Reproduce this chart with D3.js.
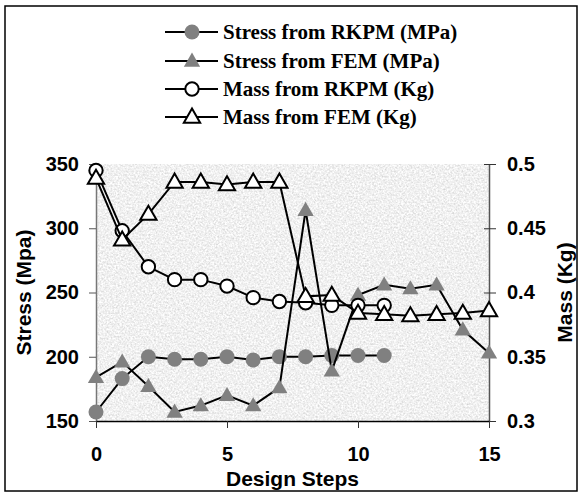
<!DOCTYPE html>
<html>
<head>
<meta charset="utf-8">
<script src="https://cdn.jsdelivr.net/npm/d3@7"></script>
<style>
  body { margin: 0; background: #fff; }
  .tick text { font-family: "Liberation Sans", Arial, sans-serif; font-weight: bold; font-size: 20px; fill: #000; }
  .axisTitle { font-family: "Liberation Sans", Arial, sans-serif; font-weight: bold; font-size: 21px; fill: #000; }
  .legendText { font-family: "Liberation Serif", "Times New Roman", serif; font-weight: bold; font-size: 21px; fill: #000; }
</style>
</head>
<body>
<div id="chart"></div>
<script>
// Data
var stepsRKPM = [0, 1, 2, 3, 4, 5, 6, 7, 8, 9, 10, 11];
var stepsFEM = [0, 1, 2, 3, 4, 5, 6, 7, 8, 9, 10, 11, 12, 13, 14, 15];
var stressRKPM = [157, 183, 200, 198, 198, 200, 197.5, 200, 200, 201, 201, 201];
var stressFEM = [184, 196, 177, 157, 162, 170, 162, 176, 314, 189, 248, 256, 253, 256, 221, 203];
var massRKPM = [0.495, 0.448, 0.420, 0.410, 0.410, 0.405, 0.396, 0.393, 0.392, 0.390, 0.390, 0.390];
var massFEM = [0.489, 0.441, 0.461, 0.486, 0.486, 0.484, 0.486, 0.486, 0.397, 0.398, 0.384, 0.383, 0.382, 0.383, 0.384, 0.386];
var xTicks = [0, 5, 10, 15];
var stressTicks = [150, 200, 250, 300, 350];
var massTicks = [0.3, 0.35, 0.4, 0.45, 0.5];
var legendLabels = ["Stress from RKPM (MPa)", "Stress from FEM (MPa)", "Mass from RKPM (Kg)", "Mass from FEM (Kg)"];

var svgWidth = 579;
var svgHeight = 495;
var plot = { left: 96, right: 489, top: 164, bottom: 421 };

var svg = d3.select("#chart")
  .append("svg")
  .attr("width", svgWidth)
  .attr("height", svgHeight);

// outer frame
svg.append("rect")
  .attr("x", 5).attr("y", 6)
  .attr("width", 572).attr("height", 485)
  .attr("fill", "none")
  .attr("stroke", "#000")
  .attr("stroke-width", 1.5);

// grey stone-like texture for the plot area
var defs = svg.append("defs");
var filt = defs.append("filter")
  .attr("id", "stone")
  .attr("filterUnits", "userSpaceOnUse")
  .attr("x", plot.left).attr("y", plot.top)
  .attr("width", plot.right - plot.left).attr("height", plot.bottom - plot.top);
filt.append("feTurbulence")
  .attr("type", "fractalNoise")
  .attr("baseFrequency", 0.55)
  .attr("numOctaves", 3)
  .attr("seed", 7);
filt.append("feColorMatrix")
  .attr("type", "matrix")
  .attr("values", "0.55 0 0 0 0.60  0.55 0 0 0 0.60  0.55 0 0 0 0.60  0 0 0 0 1");

svg.append("rect")
  .attr("x", plot.left).attr("y", plot.top)
  .attr("width", plot.right - plot.left).attr("height", plot.bottom - plot.top)
  .attr("fill", "#ddd")
  .attr("filter", "url(#stone)");

// scales
var x = d3.scaleLinear().domain([0, 15]).range([plot.left, plot.right]);
var yStress = d3.scaleLinear().domain([150, 350]).range([plot.bottom, plot.top]);
var yMass = d3.scaleLinear().domain([0.3, 0.5]).range([plot.bottom, plot.top]);

// axes
var leftAxis = svg.append("g")
  .attr("transform", `translate(${plot.left},0)`)
  .call(d3.axisLeft(yStress).tickValues(stressTicks).tickSizeInner(7).tickSizeOuter(0).tickPadding(10));
leftAxis.select(".domain").attr("stroke", "#777").attr("stroke-width", 1.5);
leftAxis.selectAll(".tick line").attr("stroke", "#555");

var rightAxis = svg.append("g")
  .attr("transform", `translate(${plot.right},0)`)
  .call(d3.axisRight(yMass).tickValues(massTicks).tickFormat(d => String(d)).tickSizeInner(7).tickSizeOuter(0).tickPadding(11));
rightAxis.select(".domain").attr("stroke", "#555").attr("stroke-width", 1.5);
rightAxis.selectAll(".tick line").attr("x1", -5).attr("stroke", "#333");

var bottomAxis = svg.append("g")
  .attr("transform", `translate(0,${plot.bottom})`)
  .call(d3.axisBottom(x).tickValues(xTicks).tickSizeInner(7).tickSizeOuter(0).tickPadding(19));
bottomAxis.select(".domain").attr("stroke", "#000").attr("stroke-width", 1.5);
bottomAxis.selectAll(".tick line").attr("stroke", "#333");

// axis titles
svg.append("text")
  .attr("class", "axisTitle")
  .attr("text-anchor", "middle")
  .attr("transform", `translate(31,${(plot.top + plot.bottom) / 2}) rotate(-90)`)
  .text("Stress (Mpa)");

svg.append("text")
  .attr("class", "axisTitle")
  .attr("text-anchor", "middle")
  .attr("transform", `translate(572,${(plot.top + plot.bottom) / 2}) rotate(-90)`)
  .text("Mass (Kg)");

svg.append("text")
  .attr("class", "axisTitle")
  .attr("text-anchor", "middle")
  .attr("x", (plot.left + plot.right) / 2)
  .attr("y", 486)
  .text("Design Steps");

// series
var triangle = d3.symbol().type(d3.symbolTriangle).size(115);
var series = [
  { steps: stepsRKPM, values: stressRKPM, y: yStress, shape: "circle", fill: "#808080", stroke: "none" },
  { steps: stepsFEM, values: stressFEM, y: yStress, shape: "triangle", fill: "#808080", stroke: "none" },
  { steps: stepsRKPM, values: massRKPM, y: yMass, shape: "circle", fill: "#fff", stroke: "#000" },
  { steps: stepsFEM, values: massFEM, y: yMass, shape: "triangle", fill: "#fff", stroke: "#000" }
];

function drawMarker(g, s, cx, cy) {
  if (s.shape === "circle") {
    g.append("circle")
      .attr("cx", cx).attr("cy", cy)
      .attr("r", s.stroke === "none" ? 7.5 : 6.7)
      .attr("fill", s.fill)
      .attr("stroke", s.stroke)
      .attr("stroke-width", 2);
  } else {
    g.append("path")
      .attr("d", triangle())
      .attr("transform", `translate(${cx},${cy + 1})`)
      .attr("fill", s.fill)
      .attr("stroke", s.stroke)
      .attr("stroke-width", 2)
      .attr("stroke-linejoin", "miter");
  }
}

series.forEach(function(s) {
  var pts = s.steps.map((d, i) => [x(d), s.y(s.values[i])]);
  svg.append("path")
    .attr("d", d3.line()(pts))
    .attr("fill", "none")
    .attr("stroke", "#000")
    .attr("stroke-width", 2);
  var g = svg.append("g");
  pts.forEach(p => drawMarker(g, s, p[0], p[1]));
});

// legend
var legendRows = [32, 61, 89, 117];
series.forEach(function(s, i) {
  var ly = legendRows[i];
  svg.append("line")
    .attr("x1", 165).attr("x2", 218)
    .attr("y1", ly).attr("y2", ly)
    .attr("stroke", "#000")
    .attr("stroke-width", 2);
  drawMarker(svg.append("g"), s, 192, ly);
  svg.append("text")
    .attr("class", "legendText")
    .attr("x", 223)
    .attr("y", ly + 7)
    .text(legendLabels[i]);
});
</script>
</body>
</html>
